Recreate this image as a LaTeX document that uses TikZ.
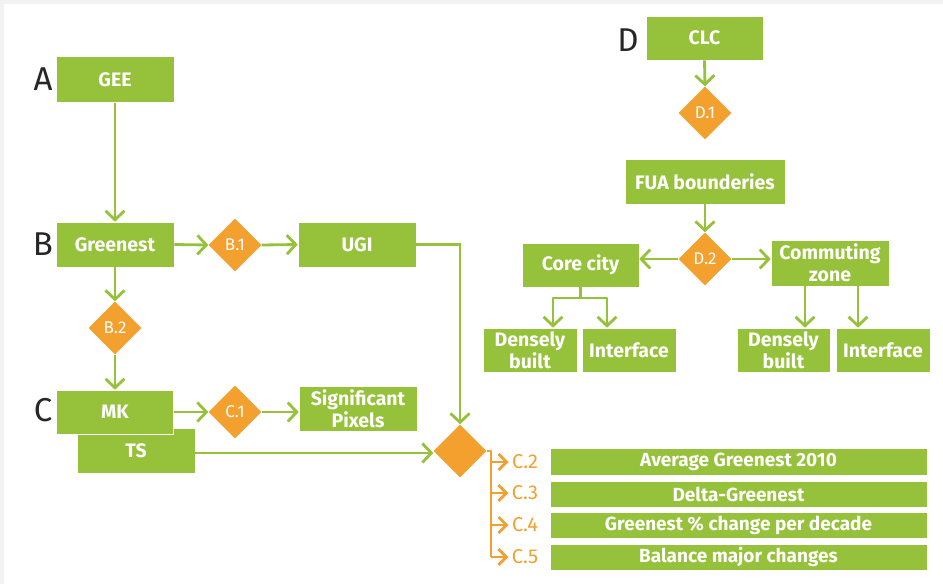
\documentclass[tikz,border=0pt]{standalone}
\usepackage{fontspec}
\setmainfont{Fira Sans}
\usetikzlibrary{shapes.geometric,arrows.meta}
\definecolor{eugreen}{RGB}{150,193,58}
\definecolor{euorange}{RGB}{243,160,46}
\definecolor{bggray}{RGB}{242,242,242}
\tikzset{
  gbox/.style={fill=eugreen, draw=white, line width=0.6pt, text=white, inner sep=0pt,
    font=\bfseries\fontsize{19.5}{22}\selectfont, align=center},
  rbox/.style={gbox, minimum width=377pt, font=\bfseries\fontsize{19}{21}\selectfont},
  dia/.style={diamond, fill=euorange, text=white, inner sep=0pt, minimum width=53pt,
    minimum height=53pt, font=\fontsize{17}{19}\selectfont},
  gline/.style={draw=eugreen, line width=2.8pt},
  garrow/.style={gline, -{Straight Barb[length=9pt,width=19pt]}},
  oline/.style={draw=euorange, line width=2.8pt},
  oarrow/.style={oline, -{Straight Barb[length=8pt,width=16pt]}},
  letter/.style={font=\fontsize{33}{35}\selectfont, text=black!85},
  olabel/.style={text=euorange, font=\fontsize{20}{22}\selectfont},
}
\begin{document}
\begin{tikzpicture}[x=1pt,y=-1pt]
\useasboundingbox (0,0) rectangle (943,584);
\fill[bggray] (0,0) rectangle (943,584);
\fill[white] (4,4) rectangle (943,584);

% letters
\node[letter] (lA) at (43,79) {A};
\node[letter] (lB) at (43,244) {B};
\node[letter] (lC) at (43,410) {C};
\node[letter] (lD) at (628,40) {D};

% left column boxes
\node[gbox, minimum width=118pt, minimum height=46pt] (gee) at (115,79.5) {GEE};
\node[gbox, minimum width=118pt, minimum height=45pt] (greenest) at (115,244.5) {Greenest};
\node[gbox, minimum width=118pt, minimum height=45pt] (ugi) at (357,244.5) {UGI};
\node[gbox, minimum width=118pt, minimum height=45pt] (ts) at (136,450.5) {TS};
\node[gbox, minimum width=117pt, minimum height=44pt] (mk) at (115,412) {MK};
\node[gbox, minimum width=118pt, minimum height=45pt] (sig) at (358,408.5) {Significant\\Pixels};

% diamonds
\node[dia] (b1) at (235,245) {B.1};
\node[dia] (b2) at (115,328) {B.2};
\node[dia] (c1) at (235,412) {C.1};
\node[dia] (big) at (460,451) {};
\node[dia] (d1) at (705,113) {D.1};
\node[dia] (d2) at (705,259) {D.2};

% D section boxes
\node[gbox, minimum width=117pt, minimum height=44pt] (clc) at (704.5,38) {CLC};
\node[gbox, minimum width=160pt, minimum height=45pt] (fua) at (705,181.5) {FUA bounderies};
\node[gbox, minimum width=117pt, minimum height=44pt] (core) at (580.5,265) {Core city};
\node[gbox, minimum width=118pt, minimum height=46pt] (comm) at (830,263) {Commuting\\zone};
\node[gbox, minimum width=94pt, minimum height=44pt] (densel) at (530,350) {Densely\\built};
\node[gbox, minimum width=94pt, minimum height=44pt] (intl) at (629,350) {Interface};
\node[gbox, minimum width=93pt, minimum height=44pt] (denser) at (783.5,350) {Densely\\built};
\node[gbox, minimum width=94pt, minimum height=44pt] (intr) at (883,350) {Interface};

% result boxes
\node[rbox, minimum height=27pt] (r2) at (738.5,461.5) {Average Greenest 2010};
\node[rbox, minimum height=26pt] (r3) at (738.5,494) {Delta-Greenest};
\node[rbox, minimum height=26pt] (r4) at (738.5,525) {Greenest \% change per decade};
\node[rbox, minimum height=26pt] (r5) at (738.5,557) {Balance major changes};

% orange labels
\node[olabel] (lc2) at (525,462) {C.2};
\node[olabel] (lc3) at (525,493) {C.3};
\node[olabel] (lc4) at (525,525) {C.4};
\node[olabel] (lc5) at (525,557) {C.5};

% connectors left
\draw[garrow] (gee.south) -- (greenest.north);
\draw[garrow] (greenest.east) -- (b1.west);
\draw[garrow] (b1.east) -- (ugi.west);
\draw[garrow] (greenest.south) -- (b2.north);
\draw[garrow] (b2.south) -- (mk.north);
\draw[garrow] (mk.east |- c1.west) -- (c1.west);
\draw[garrow] (c1.east) -- (sig.west |- c1.east);
\draw[garrow] (ugi.east) -| (big.north);
\draw[garrow] (ts.east |- 0,453) -- (big.west |- 0,453);

% orange bracket
\coordinate (ob) at (491,451);
\coordinate (ob5) at (491,557);
\draw[oline, line join=round] (big.east) -- (ob) -- (ob5);
\coordinate (a2) at (491,462);
\coordinate (a3) at (491,493);
\coordinate (a4) at (491,525);
\draw[oarrow] (a2) -- (lc2.west);
\draw[oarrow] (a3) -- (lc3.west);
\draw[oarrow] (a4) -- (lc4.west);
\draw[oarrow, line join=round] (ob5) -- (lc5.west);

% D connectors
\draw[garrow] (clc.south) -- (d1.north);
\draw[garrow] (fua.south) -- (d2.north);
\draw[garrow] (d2.west) -- (core.east |- d2.west);
\draw[garrow] (d2.east) -- (comm.west |- d2.east);

\coordinate (cb) at (580.5,298);
\coordinate (cbl) at (553,298);
\coordinate (cbr) at (607,298);
\draw[gline] (core.south) -- (cb);
\draw[garrow, line join=round] (cb) -- (cbl) -- (cbl |- densel.north);
\draw[garrow, line join=round] (cb) -- (cbr) -- (cbr |- intl.north);

\coordinate (zl) at (805,0);
\coordinate (zr) at (858,0);
\draw[garrow] (zl |- comm.south) -- (zl |- denser.north);
\draw[garrow] (zr |- comm.south) -- (zr |- intr.north);
\end{tikzpicture}
\end{document}
